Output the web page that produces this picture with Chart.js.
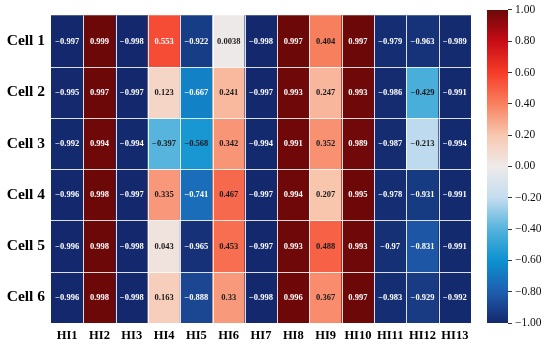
<!DOCTYPE html>
<html>
<head>
<meta charset="utf-8">
<script src="https://cdn.jsdelivr.net/npm/chart.js@4"></script>
<style>
  html, body { margin: 0; padding: 0; background: #fff; }
  #wrap { position: relative; width: 550px; height: 346px; }
  #heat { position: absolute; left: 0; top: 0; }
  #bar { position: absolute; left: 480px; top: 0; }
</style>
</head>
<body>
<div id="wrap">
  <canvas id="heat" width="480" height="346"></canvas>
  <canvas id="bar" width="70" height="346"></canvas>
</div>
<script>
// --- data ---
const columns = ['HI1', 'HI2', 'HI3', 'HI4', 'HI5', 'HI6', 'HI7', 'HI8', 'HI9', 'HI10', 'HI11', 'HI12', 'HI13'];
const cells = ['Cell 1', 'Cell 2', 'Cell 3', 'Cell 4', 'Cell 5', 'Cell 6'];

const cell1 = [-0.997, 0.999, -0.998, 0.553, -0.922, 0.0038, -0.998, 0.997, 0.404, 0.997, -0.979, -0.963, -0.989];
const cell2 = [-0.995, 0.997, -0.997, 0.123, -0.667, 0.241, -0.997, 0.993, 0.247, 0.993, -0.986, -0.429, -0.991];
const cell3 = [-0.992, 0.994, -0.994, -0.397, -0.568, 0.342, -0.994, 0.991, 0.352, 0.989, -0.987, -0.213, -0.994];
const cell4 = [-0.996, 0.998, -0.997, 0.335, -0.741, 0.467, -0.997, 0.994, 0.207, 0.995, -0.978, -0.931, -0.991];
const cell5 = [-0.996, 0.998, -0.998, 0.043, -0.965, 0.453, -0.997, 0.993, 0.488, 0.993, -0.97, -0.831, -0.991];
const cell6 = [-0.996, 0.998, -0.998, 0.163, -0.888, 0.33, -0.998, 0.996, 0.367, 0.997, -0.983, -0.929, -0.992];
const rows = [cell1, cell2, cell3, cell4, cell5, cell6];

const colorTicks = [-1, -0.8, -0.6, -0.4, -0.2, 0, 0.2, 0.4, 0.6, 0.8, 1];

// colour map, -1 .. 1
const cmap = ['#14286c', '#1e5eb0', '#0c92d0', '#55b3dd', '#c4ddef', '#eeeaea',
              '#f8c8b0', '#f8805e', '#f63c28', '#c60c16', '#6c0808'];

const serif = "'Liberation Serif', 'Times New Roman', serif";

function hexToRgb(h) {
  return [parseInt(h.substr(1, 2), 16), parseInt(h.substr(3, 2), 16), parseInt(h.substr(5, 2), 16)];
}

function colorFor(v) {
  let t = (v + 1) / 2 * (cmap.length - 1);
  let i = Math.min(Math.floor(t), cmap.length - 2);
  let f = t - i;
  let a = hexToRgb(cmap[i]), b = hexToRgb(cmap[i + 1]);
  let c = a.map((x, k) => Math.round(x + (b[k] - x) * f));
  return `rgb(${c[0]},${c[1]},${c[2]})`;
}

function fmt(v) {
  return String(v).replace('-', '\u2212');
}

// --- cell lines + value labels ---
const cellPlugin = {
  id: 'cellPlugin',
  afterDatasetsDraw(chart) {
    const ctx = chart.ctx;
    const xs = chart.scales.x, ys = chart.scales.y;
    const area = chart.chartArea;
    const half = (xs.getPixelForValue(1) - xs.getPixelForValue(0)) / 2;

    ctx.save();
    ctx.strokeStyle = 'rgba(255,255,255,0.85)';
    ctx.lineWidth = 1;
    ctx.beginPath();
    for (let i = 1; i < columns.length; i++) {
      const x = Math.round(xs.getPixelForValue(i) - half) + 0.5;
      ctx.moveTo(x, area.top);
      ctx.lineTo(x, area.bottom);
    }
    for (let r = 1; r < cells.length; r++) {
      const y = Math.round(ys.getPixelForValue(r)) + 0.5;
      ctx.moveTo(area.left, y);
      ctx.lineTo(area.right, y);
    }
    ctx.stroke();

    ctx.font = 'bold 8.5px ' + serif;
    ctx.textAlign = 'center';
    ctx.textBaseline = 'middle';
    rows.forEach((vals, r) => {
      const meta = chart.getDatasetMeta(r);
      meta.data.forEach((bar, i) => {
        const v = vals[i];
        const p = bar.getCenterPoint();
        ctx.fillStyle = (v > 0.5 || v < -0.6) ? '#ffffff' : '#1a1a1a';
        ctx.fillText(fmt(v), p.x, p.y + 0.5);
      });
    });
    ctx.restore();
  }
};

new Chart(document.getElementById('heat'), {
  type: 'bar',
  data: {
    labels: columns,
    datasets: rows.map((vals, r) => ({
      label: cells[r],
      data: vals.map(() => [r, r + 1]),
      backgroundColor: vals.map(colorFor),
      borderWidth: 0,
      barPercentage: 1,
      categoryPercentage: 1,
      grouped: false
    }))
  },
  options: {
    responsive: false,
    devicePixelRatio: 1,
    animation: false,
    layout: { padding: { left: 0, right: 9, top: 8, bottom: 0 } },
    plugins: { legend: { display: false }, tooltip: { enabled: false } },
    scales: {
      x: {
        grid: { display: false, drawTicks: false },
        border: { display: false },
        ticks: { color: '#000', font: { family: serif, size: 12.5, weight: 'bold' }, padding: 5, maxRotation: 0 },
        afterFit: s => { s.height = 23; }
      },
      y: {
        type: 'linear',
        min: 0,
        max: 6,
        reverse: true,
        grid: { display: false, drawTicks: false },
        border: { display: false },
        afterBuildTicks: s => { s.ticks = cells.map((c, i) => ({ value: i + 0.5 })); },
        ticks: {
          color: '#000',
          font: { family: serif, size: 15.5, weight: 'bold' },
          padding: 6,
          callback: v => cells[Math.floor(v)]
        },
        afterFit: s => { s.width = 51; }
      }
    }
  },
  plugins: [cellPlugin]
});

// --- colour bar ---
new Chart(document.getElementById('bar'), {
  type: 'bar',
  data: {
    labels: [''],
    datasets: [{
      data: [[colorTicks[0], colorTicks[colorTicks.length - 1]]],
      backgroundColor: ctx => {
        const a = ctx.chart.chartArea;
        if (!a) return cmap[0];
        const g = ctx.chart.ctx.createLinearGradient(0, a.bottom, 0, a.top);
        cmap.forEach((c, i) => g.addColorStop(i / (cmap.length - 1), c));
        return g;
      },
      borderWidth: 0,
      barPercentage: 1,
      categoryPercentage: 1
    }]
  },
  options: {
    responsive: false,
    devicePixelRatio: 1,
    animation: false,
    layout: { padding: { left: 7, right: 0, top: 8, bottom: 23 } },
    plugins: { legend: { display: false }, tooltip: { enabled: false } },
    scales: {
      x: { display: false },
      y: {
        position: 'right',
        min: -1,
        max: 1,
        grid: { drawOnChartArea: false, tickLength: 4, color: '#333' },
        border: { display: false },
        afterBuildTicks: s => { s.ticks = colorTicks.map(v => ({ value: v })); },
        ticks: {
          color: '#111',
          font: { family: serif, size: 11.5 },
          padding: 3,
          callback: v => (v < -0.001 ? '\u2212' : '') + Math.abs(v).toFixed(2)
        },
        afterFit: s => { s.width = 42; }
      }
    }
  }
});
</script>
</body>
</html>
